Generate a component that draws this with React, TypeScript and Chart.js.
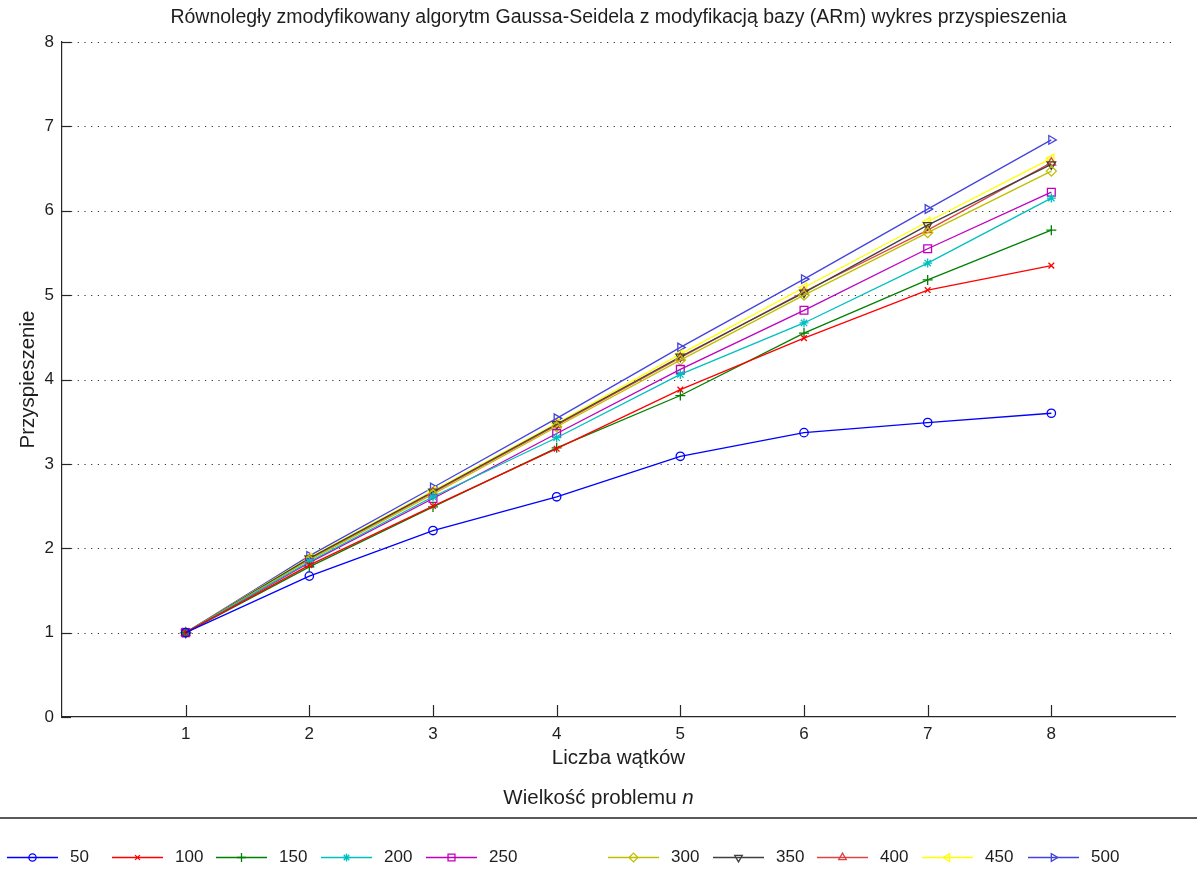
import React, { useEffect, useRef } from 'react';
import { Chart, registerables } from 'chart.js';
import { drawPoint } from 'chart.js/helpers';

Chart.register(...registerables);

// Number of threads (x axis)
const threads = [1, 2, 3, 4, 5, 6, 7, 8];

// Problem sizes n (one series each)
const problemSizes = ['50', '100', '150', '200', '250', '300', '350', '400', '450', '500'];

// Speed-up values per problem size
const speedup50 = [1, 1.67, 2.21, 2.61, 3.09, 3.37, 3.49, 3.6];
const speedup100 = [1, 1.8, 2.5, 3.18, 3.88, 4.49, 5.06, 5.35];
const speedup150 = [1, 1.78, 2.49, 3.19, 3.81, 4.55, 5.18, 5.77];
const speedup200 = [1, 1.84, 2.61, 3.31, 4.06, 4.67, 5.38, 6.15];
const speedup250 = [1, 1.83, 2.59, 3.36, 4.12, 4.82, 5.55, 6.22];
const speedup300 = [1, 1.86, 2.64, 3.44, 4.23, 5.0, 5.74, 6.47];
const speedup350 = [1, 1.88, 2.67, 3.47, 4.27, 5.03, 5.83, 6.55];
const speedup400 = [1, 1.87, 2.66, 3.46, 4.26, 5.04, 5.77, 6.57];
const speedup450 = [1, 1.89, 2.68, 3.48, 4.3, 5.09, 5.87, 6.62];
const speedup500 = [1, 1.91, 2.72, 3.54, 4.38, 5.19, 6.02, 6.84];

const speedups = [
  speedup50, speedup100, speedup150, speedup200, speedup250,
  speedup300, speedup350, speedup400, speedup450, speedup500,
];

// Axis ticks
const xTicks = [1, 2, 3, 4, 5, 6, 7, 8];
const yTicks = [0, 1, 2, 3, 4, 5, 6, 7, 8];

// Texts
const TITLE = 'Równoległy zmodyfikowany algorytm Gaussa-Seidela z modyfikacją bazy (ARm) wykres przyspieszenia';
const X_LABEL = 'Liczba wątków';
const Y_LABEL = 'Przyspieszenie';
const LEGEND_TITLE = 'Wielkość problemu ';
const LEGEND_TITLE_VAR = 'n';

// Line colours and marker styles (MATLAB-like)
const seriesColors = [
  '#0000ff', '#ff0000', '#008000', '#00bfbf', '#bf00bf',
  '#bfbf00', '#404040', '#dd4444', '#ffff00', '#4444dd',
];
const seriesMarkers = [
  { pointStyle: 'circle', rotation: 0, radius: 4.2 },
  { pointStyle: 'crossRot', rotation: 0, radius: 4 },
  { pointStyle: 'cross', rotation: 0, radius: 5 },
  { pointStyle: 'star', rotation: 0, radius: 4.5 },
  { pointStyle: 'rect', rotation: 0, radius: 5.5 },
  { pointStyle: 'rectRot', rotation: 0, radius: 5 },
  { pointStyle: 'triangle', rotation: 180, radius: 5 },
  { pointStyle: 'triangle', rotation: 0, radius: 5 },
  { pointStyle: 'triangle', rotation: 270, radius: 5 },
  { pointStyle: 'triangle', rotation: 90, radius: 5 },
];

// Layout
const W = 1197;
const H = 890;
const FONT = "'Liberation Sans', Arial, sans-serif";
const TICK_SIZE = 17;
const LABEL_SIZE = 20.5;
const TITLE_SIZE = 19.5;
const TEXT_COLOR = '#1e1e1e';
const AXIS_COLOR = '#262626';
const LINE_W = 1.3;
const LEGEND_X = [7, 112, 216, 321, 426, 608, 713, 817, 922, 1028];
const LEGEND_Y = 857;
const LEGEND_LINE = 51;

const decorPlugin = {
  id: 'matlabDecor',
  beforeDatasetsDraw(chart: any) {
    const { ctx, chartArea, scales } = chart;
    const xs = scales.x;
    const ys = scales.y;
    ctx.save();
    // dotted horizontal grid
    ctx.strokeStyle = '#333333';
    ctx.lineWidth = 1;
    ctx.setLineDash([1.2, 5.5]);
    for (const v of yTicks) {
      if (v === 0) continue;
      const y = Math.round(ys.getPixelForValue(v)) + 0.5;
      ctx.beginPath();
      ctx.moveTo(chartArea.left + 9, y);
      ctx.lineTo(chartArea.right - 4, y);
      ctx.stroke();
    }
    ctx.setLineDash([]);
    // inward tick marks
    ctx.strokeStyle = AXIS_COLOR;
    ctx.lineWidth = 1.2;
    for (const v of yTicks) {
      const y = Math.round(ys.getPixelForValue(v)) + 0.5;
      ctx.beginPath();
      ctx.moveTo(chartArea.left, y);
      ctx.lineTo(chartArea.left + 9, y);
      ctx.stroke();
    }
    for (const v of xTicks) {
      const x = Math.round(xs.getPixelForValue(v)) + 0.5;
      ctx.beginPath();
      ctx.moveTo(x, chartArea.bottom);
      ctx.lineTo(x, chartArea.bottom - 12);
      ctx.stroke();
    }
    ctx.restore();
  },
  afterDraw(chart: any) {
    const { ctx, chartArea } = chart;
    ctx.save();
    ctx.fillStyle = TEXT_COLOR;
    ctx.textBaseline = 'middle';
    ctx.textAlign = 'center';
    const cx = (chartArea.left + chartArea.right) / 2;
    // title
    ctx.font = `${TITLE_SIZE}px ${FONT}`;
    ctx.fillText(TITLE, cx, 18);
    // axis labels
    ctx.font = `${LABEL_SIZE}px ${FONT}`;
    ctx.fillText(X_LABEL, cx, 758);
    ctx.save();
    ctx.translate(28, (chartArea.top + chartArea.bottom) / 2);
    ctx.rotate(-Math.PI / 2);
    ctx.fillText(Y_LABEL, 0, 0);
    ctx.restore();
    // legend title with italic variable
    const t1w = ctx.measureText(LEGEND_TITLE).width;
    ctx.font = `italic ${LABEL_SIZE}px ${FONT}`;
    const t2w = ctx.measureText(LEGEND_TITLE_VAR).width;
    const startX = W / 2 - (t1w + t2w) / 2;
    ctx.textAlign = 'left';
    ctx.font = `${LABEL_SIZE}px ${FONT}`;
    ctx.fillText(LEGEND_TITLE, startX, 798);
    ctx.font = `italic ${LABEL_SIZE}px ${FONT}`;
    ctx.fillText(LEGEND_TITLE_VAR, startX + t1w, 798);
    // separator
    ctx.strokeStyle = '#222222';
    ctx.lineWidth = 1.5;
    ctx.beginPath();
    ctx.moveTo(0, 818);
    ctx.lineTo(W, 818);
    ctx.stroke();
    // legend entries
    ctx.font = `${TICK_SIZE}px ${FONT}`;
    problemSizes.forEach((label, i) => {
      const x0 = LEGEND_X[i];
      const color = seriesColors[i];
      ctx.strokeStyle = color;
      ctx.lineWidth = LINE_W;
      ctx.beginPath();
      ctx.moveTo(x0, LEGEND_Y + 0.5);
      ctx.lineTo(x0 + LEGEND_LINE, LEGEND_Y + 0.5);
      ctx.stroke();
      const m = seriesMarkers[i];
      ctx.fillStyle = 'rgba(0,0,0,0)';
      drawPoint(ctx, { pointStyle: m.pointStyle, rotation: m.rotation, radius: m.radius - 0.6, borderWidth: LINE_W } as any,
        x0 + LEGEND_LINE / 2, LEGEND_Y + 0.5);
      ctx.fillStyle = TEXT_COLOR;
      ctx.fillText(label, x0 + 63, LEGEND_Y);
    });
    ctx.restore();
  },
};

export default function App() {
  const canvasRef = useRef<HTMLCanvasElement | null>(null);

  useEffect(() => {
    document.body.style.margin = '0';
    const canvas = canvasRef.current;
    if (!canvas) return;

    const datasets = problemSizes.map((label, i) => ({
      label,
      data: threads.map((t, j) => ({ x: t, y: speedups[i][j] })),
      borderColor: seriesColors[i],
      backgroundColor: 'rgba(0,0,0,0)',
      borderWidth: LINE_W,
      pointStyle: seriesMarkers[i].pointStyle,
      pointRotation: seriesMarkers[i].rotation,
      pointRadius: seriesMarkers[i].radius,
      pointBorderColor: seriesColors[i],
      pointBackgroundColor: 'rgba(0,0,0,0)',
      pointBorderWidth: LINE_W,
      tension: 0,
      fill: false,
    }));

    const chart = new Chart(canvas, {
      type: 'line',
      data: { datasets },
      plugins: [decorPlugin],
      options: {
        animation: false,
        responsive: false,
        devicePixelRatio: 1,
        layout: { padding: { top: 42, right: 22, left: 0, bottom: 0 } },
        plugins: {
          legend: { display: false },
          title: { display: false },
          tooltip: { enabled: false },
        },
        scales: {
          x: {
            type: 'linear',
            min: 0,
            max: 9,
            afterFit: (s: any) => { s.height = H - 717; },
            grid: { display: false, drawTicks: false },
            border: { display: true, color: AXIS_COLOR, width: 1.2 },
            afterBuildTicks: (s: any) => { s.ticks = xTicks.map((v) => ({ value: v })); },
            ticks: {
              font: { family: FONT, size: TICK_SIZE },
              color: TEXT_COLOR,
              padding: 7,
              maxRotation: 0,
              autoSkip: false,
              callback: (v: any) => String(v),
            },
          },
          y: {
            min: 0,
            max: 8,
            afterFit: (s: any) => { s.width = 62; },
            grid: { display: false, drawTicks: false },
            border: { display: true, color: AXIS_COLOR, width: 1.2 },
            afterBuildTicks: (s: any) => { s.ticks = yTicks.map((v) => ({ value: v })); },
            ticks: {
              font: { family: FONT, size: TICK_SIZE },
              color: TEXT_COLOR,
              padding: 8,
              callback: (v: any) => String(v),
            },
          },
        },
      } as any,
    });

    return () => chart.destroy();
  }, []);

  return (
    <div style={{ width: W, height: H, background: '#ffffff' }}>
      <canvas ref={canvasRef} width={W} height={H} style={{ display: 'block' }} />
    </div>
  );
}
